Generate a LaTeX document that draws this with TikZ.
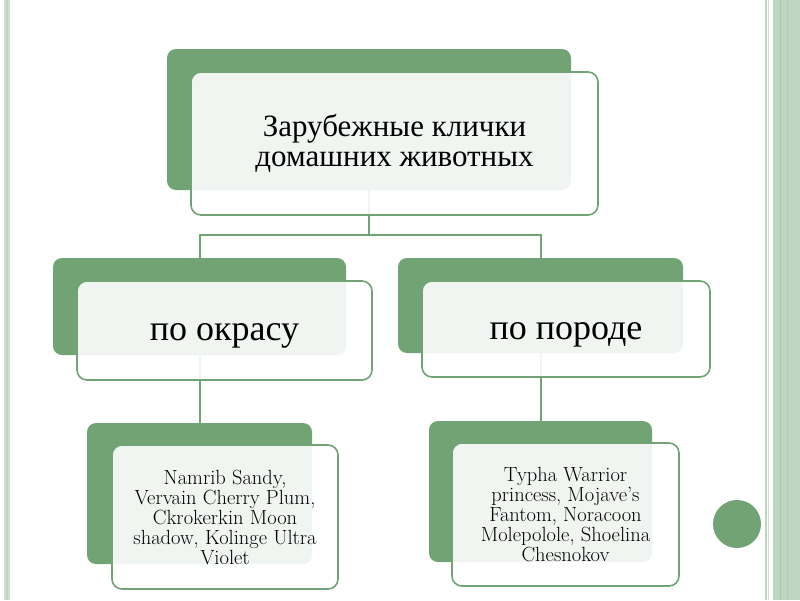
\documentclass[tikz,border=0pt]{standalone}
\usepackage{fontspec}
\newfontfamily\cyr{Liberation Serif}
\definecolor{gr}{RGB}{113,163,116}
\definecolor{edgeL}{RGB}{206,225,209}
\definecolor{edgeM}{RGB}{190,213,193}
\definecolor{edgeD}{RGB}{168,200,172}
\pgfdeclarelayer{bg}
\pgfsetlayers{bg,main}
\newcommand{\onbase}[1]{\raisebox{-10pt}[0pt][0pt]{#1}}
\begin{document}
\begin{tikzpicture}[x=1pt,y=-1pt,
  back/.style={fill=gr,rounded corners=9pt,inner sep=0pt},
  front/.style={draw=gr,line width=1.6pt,fill=white,fill opacity=0.9,text opacity=1,
    rounded corners=10pt,inner sep=0pt,align=center},
  conn/.style={draw=gr,line width=2pt},
  toptext/.style={font=\cyr\fontsize{31}{30}\selectfont},
  midtext/.style={font=\cyr\fontsize{36}{40}\selectfont},
  lowtext/.style={font=\fontsize{20.5}{20}\selectfont}]
\useasboundingbox (0,0) rectangle (800,600);
% page decorations
\fill[edgeL] (4,0) rectangle (9.5,600);
\fill[edgeM] (5.5,0) rectangle (8,600);
\fill[edgeM] (765,0) rectangle (766.5,600);
\fill[edgeL] (767.5,0) rectangle (769,600);
\fill[edgeM] (773,0) rectangle (800,600);
\fill[edgeD] (779.5,0) rectangle (781,600);
\fill[edgeD!70!edgeM] (786.5,0) rectangle (788,600);
\fill[gr] (737,524) circle (24);
% top
\node[back,minimum width=404pt,minimum height=141pt] (tg) at (369,119.5) {};
\node[front,toptext,minimum width=407pt,minimum height=143pt] (t) at (394.5,143.5) {Зарубежные клички\\домашних животных};
% middle
\node[back,minimum width=293pt,minimum height=97pt] (lg) at (199.5,306.5) {};
\node[front,midtext,minimum width=295pt,minimum height=99pt] (l) at (224.5,330.5) {\onbase{по окрасу}};
\node[back,minimum width=285pt,minimum height=95pt] (rg) at (540.5,305.5) {};
\node[front,midtext,minimum width=288pt,minimum height=96pt] (r) at (566,329) {\onbase{по породе}};
% bottom
\node[back,minimum width=225pt,minimum height=141pt] (llg) at (199.5,493.5) {};
\node[front,lowtext,minimum width=226pt,minimum height=144pt] (ll) at (225,517) {Namrib Sandy,\\Vervain Cherry Plum,\\Ckrokerkin Moon\\shadow, Kolinge Ultra\\Violet};
\node[back,minimum width=223pt,minimum height=141pt] (rrg) at (540.5,491.5) {};
\node[front,lowtext,minimum width=227pt,minimum height=143pt] (rr) at (565.5,514.5) {Typha Warrior\\princess, Mojave’s\\Fantom, Noracoon\\Molepolole, Shoelina\\Chesnokov};
% connectors
\begin{pgfonlayer}{bg}
\coordinate (j) at ([yshift=-45pt]tg.south);
\draw[conn] (tg.south) -- (j);
\draw[conn] (j) -| (lg.north);
\draw[conn] (j) -| (rg.north);
\draw[conn] (lg.south) -- (llg.north);
\draw[conn] (rg.south) -- (rrg.north);
\end{pgfonlayer}
\end{tikzpicture}
\end{document}
